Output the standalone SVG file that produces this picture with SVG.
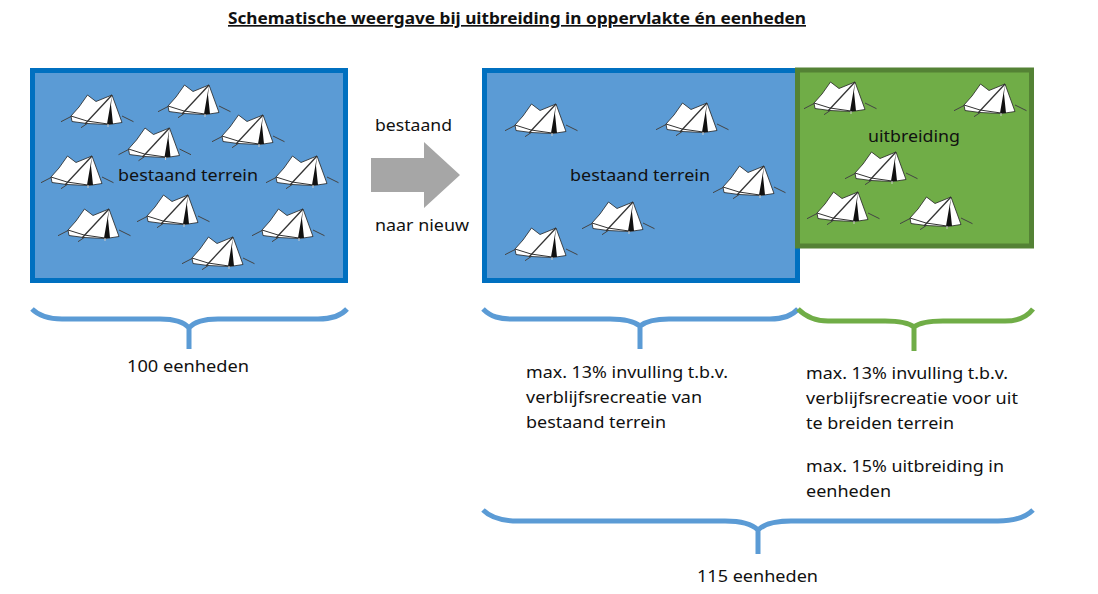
<svg xmlns="http://www.w3.org/2000/svg" width="1098" height="594" viewBox="0 0 1098 594">
<style>
text{font-family:"Noto Sans","Open Sans","Liberation Sans",sans-serif;font-size:17px;fill:#111}
.title{font-size:16.500px;font-weight:700;text-decoration:underline}
.blue{fill:#5B9BD5;stroke:#0070C0;stroke-width:5}
.green{fill:#70AD47;stroke:#548235;stroke-width:5}
.bb{fill:none;stroke:#5B9BD5;stroke-width:5}
.bg{fill:none;stroke:#70AD47;stroke-width:5}
</style>
<defs>
<g id="tent">
<path d="M-25 5-36 10.700M25 5 36.500 10.700M-3 8-16 16.700" fill="none" stroke="#444" stroke-width="1"/>
<path d="M-9.500-16-1-9.500 15-16 25 11.500 12 13.500-10 12.500-25 10.500-26 5-18-4Z" fill="#fff" stroke="#222" stroke-width="0.800"/>
<path d="M15-16-12 13" fill="none" stroke="#333" stroke-width="1.300"/>
<path d="M15-16 10 13 16 13 14-6Z" fill="#111"/>
<path d="M-26 5-10 10 11 13" fill="none" stroke="#333" stroke-width="1"/>
<path d="M11 13V16" stroke="#ccc" stroke-width="1"/>
</g>
</defs>
<text class="title" x="228" y="24" textLength="578" lengthAdjust="spacingAndGlyphs">Schematische weergave bij uitbreiding in oppervlakte én eenheden</text>
<g id="bestaand-links">
<rect class="blue" x="32.500" y="70.500" width="313" height="210"/>
<use href="#tent" x="97" y="111"/><use href="#tent" x="194" y="101"/><use href="#tent" x="154.500" y="144"/><use href="#tent" x="248" y="131"/><use href="#tent" x="77" y="172"/><use href="#tent" x="302" y="172"/><use href="#tent" x="94" y="225"/><use href="#tent" x="173" y="211"/><use href="#tent" x="288" y="225"/><use href="#tent" x="218" y="253"/>
<text x="118" y="181" textLength="140" lengthAdjust="spacingAndGlyphs">bestaand terrein</text>
</g>
<g id="pijl">
<path d="M371 158H424V142L460 175 424 208V192H371Z" fill="#A6A6A6"/>
<text x="375" y="131" textLength="77" lengthAdjust="spacingAndGlyphs">bestaand</text>
<text x="375" y="231" textLength="94" lengthAdjust="spacingAndGlyphs">naar nieuw</text>
</g>
<g id="bestaand-rechts">
<rect class="blue" x="484.500" y="70.500" width="313" height="210"/>
<use href="#tent" x="541" y="120"/><use href="#tent" x="692" y="119"/><use href="#tent" x="749" y="182"/><use href="#tent" x="618" y="218"/><use href="#tent" x="541" y="244"/>
<text x="570" y="181" textLength="140" lengthAdjust="spacingAndGlyphs">bestaand terrein</text>
</g>
<g id="uitbreiding">
<rect class="green" x="797.500" y="70" width="234" height="176"/>
<use href="#tent" x="840" y="98"/><use href="#tent" x="990" y="100"/><use href="#tent" x="881" y="168"/><use href="#tent" x="843" y="208"/><use href="#tent" x="936" y="213"/>
<text x="868" y="142" textLength="92" lengthAdjust="spacingAndGlyphs">uitbreiding</text>
</g>
<g id="connectors">
<path class="bb" d="M32 309C40 317 50 319 62 319H160C175 319 184 322 189 328 194 322 203 319 218 319H318C330 319 340 317 347 309M189 328V349"/>
<path class="bb" d="M483 309C491 317 500 319 512 319H610C625 319 635 322 640 326 645 322 654 319 669 319H770C782 319 791 317 798 309M640 326V349"/>
<path class="bg" d="M798 309C806 317 815 321 828 321H885C900 321 909 323 914 327 919 323 928 321 943 321H1005C1018 321 1027 317 1033 309M914 327V351"/>
<path class="bb" d="M483 510C491 518 503 521 518 521H725C743 521 753 525 758 530 763 525 773 521 791 521H998C1013 521 1025 518 1033 510M758 530V554"/>
</g>
<g id="teksten">
<text x="127" y="372" textLength="122" lengthAdjust="spacingAndGlyphs">100 eenheden</text>
<text x="526" y="378" textLength="202" lengthAdjust="spacingAndGlyphs">max. 13% invulling t.b.v.</text>
<text x="526" y="403" textLength="176" lengthAdjust="spacingAndGlyphs">verblijfsrecreatie van</text>
<text x="526" y="428" textLength="140" lengthAdjust="spacingAndGlyphs">bestaand terrein</text>
<text x="806" y="379" textLength="202" lengthAdjust="spacingAndGlyphs">max. 13% invulling t.b.v.</text>
<text x="806" y="404" textLength="212" lengthAdjust="spacingAndGlyphs">verblijfsrecreatie voor uit</text>
<text x="806" y="429" textLength="148" lengthAdjust="spacingAndGlyphs">te breiden terrein</text>
<text x="806" y="472" textLength="198" lengthAdjust="spacingAndGlyphs">max. 15% uitbreiding in</text>
<text x="806" y="497" textLength="85" lengthAdjust="spacingAndGlyphs">eenheden</text>
<text x="697" y="582" textLength="121" lengthAdjust="spacingAndGlyphs">115 eenheden</text>
</g>
</svg>
